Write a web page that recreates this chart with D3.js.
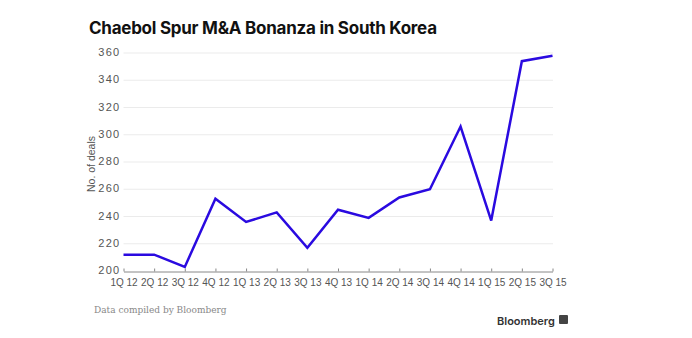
<!DOCTYPE html>
<html><head><meta charset="utf-8">
<script src="https://cdn.jsdelivr.net/npm/d3@7"></script>
<style>body{margin:0;background:#fff}svg{display:block}</style>
</head><body>
<script>
const categories = ["1Q 12","2Q 12","3Q 12","4Q 12","1Q 13","2Q 13","3Q 13","4Q 13","1Q 14","2Q 14","3Q 14","4Q 14","1Q 15","2Q 15","3Q 15"];
const deals = [212,212,203,253,236,243,217,245,239,254,260,306,237,354,358];
const yTicks = [200,220,240,260,280,300,320,340,360];

const W=692,H=338;
const svg=d3.select("body").append("svg").attr("width",W).attr("height",H);
const x=d3.scalePoint().domain(categories).range([123.5,552.5]);
const y=d3.scaleLinear().domain([200,360]).range([271,53]);

svg.append("text").attr("x",89).attr("y",34).attr("font-family","Inter, Roboto, sans-serif")
  .attr("font-weight",700).attr("font-size",17).attr("fill","#111").attr("letter-spacing",-0.25)
  .text("Chaebol Spur M&A Bonanza in South Korea");

// gridlines
svg.append("g").selectAll("line").data(yTicks.filter(d=>d>200)).join("line")
  .attr("x1",123.5).attr("x2",553).attr("y1",d=>y(d)).attr("y2",d=>y(d))
  .attr("stroke","#ebebeb").attr("stroke-width",1);

// y axis labels
const ya=svg.append("g").attr("transform","translate(120.5,-1)")
  .call(d3.axisLeft(y).tickValues(yTicks).tickSize(0).tickPadding(0));
ya.select(".domain").remove();
ya.selectAll("text").attr("font-family","Helvetica, Arial, 'Liberation Sans', sans-serif").attr("font-size",11)
  .attr("letter-spacing",1.3).attr("fill","#555");

// x axis
const xa=svg.append("g").attr("transform","translate(0,271.5)")
  .call(d3.axisBottom(x).tickSize(3).tickSizeOuter(0).tickPadding(4));
xa.select(".domain").attr("stroke","#888");
xa.selectAll(".tick line").attr("stroke","#888").attr("transform","translate(0,-3)");
xa.selectAll("text").attr("font-family","Helvetica, Arial, 'Liberation Sans', sans-serif").attr("font-size",10).attr("fill","#555");

// y label
svg.append("text").attr("transform","translate(94.5,164) rotate(-90)").attr("text-anchor","middle")
  .attr("font-family","Helvetica, Arial, 'Liberation Sans', sans-serif").attr("font-size",10.5).attr("fill","#555")
  .text("No. of deals");

// line
svg.append("path").datum(deals).attr("fill","none").attr("stroke","#2a0ae0").attr("stroke-width",2.5)
  .attr("stroke-linejoin","miter")
  .attr("d",d3.line().x((d,i)=>x(categories[i])).y(d=>y(d)));

svg.append("text").attr("x",94).attr("y",313).attr("font-family","'DejaVu Serif', 'Liberation Serif', serif")
  .attr("font-size",9).attr("fill","#888").text("Data compiled by Bloomberg");

svg.append("text").attr("x",497).attr("y",325).attr("font-family","Inter, Roboto, sans-serif")
  .attr("font-weight",600).attr("font-size",11).attr("fill","#333").text("Bloomberg");
svg.append("rect").attr("x",559).attr("y",315).attr("width",9).attr("height",9).attr("rx",1).attr("fill","#444");
</script>
</body></html>
